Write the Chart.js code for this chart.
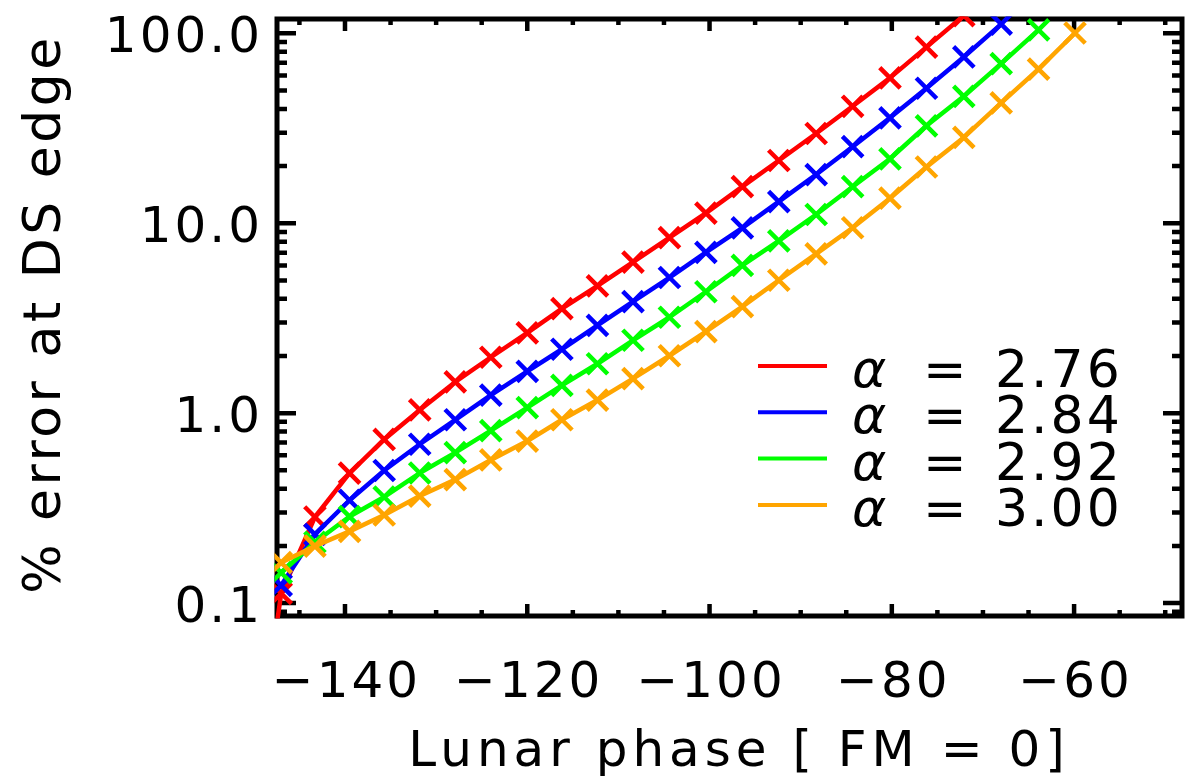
<!DOCTYPE html>
<html>
<head>
<meta charset="utf-8">
<script src="https://cdn.jsdelivr.net/npm/chart.js@4"></script>
<style>
html,body{margin:0;padding:0;background:#ffffff;}
#wrap{width:1201px;height:782px;position:relative;}
</style>
</head>
<body>
<div id="wrap"><canvas id="c" width="1201" height="782"></canvas></div>
<script>
// ---------- data ----------
const phase = [-150.9, -147.0, -143.3, -139.5, -135.7, -131.8, -127.9, -124.0, -120.0, -116.2,
               -112.3, -108.4, -104.4, -100.4, -96.4, -92.4, -88.3, -84.3, -80.2, -76.2,
               -72.1, -68.0, -63.9, -59.9];
const alphaValues = [2.76, 2.84, 2.92, 3.00];
const err276 = [0.0055, 0.1125, 0.284, 0.483, 0.727, 1.04, 1.46, 1.97, 2.65, 3.55,
                4.68, 6.24, 8.41, 11.3, 15.6, 21.4, 29.7, 41.3, 58.3, 84.6, 124];
const err284 = [null, 0.124, 0.230, 0.348, 0.499, 0.686, 0.923, 1.244, 1.66, 2.17,
                2.90, 3.87, 5.18, 7.03, 9.46, 13.0, 18.05, 25.3, 35.9, 51.4, 75.1, 111.8];
const err292 = [null, 0.1445, 0.209, 0.2855, 0.362, 0.484, 0.620, 0.810, 1.07, 1.40,
                1.82, 2.42, 3.20, 4.36, 6.00, 8.08, 11.12, 15.58, 21.85, 32.6, 46.6, 69.3, 104.4];
const err300 = [null, 0.1634, 0.1995, 0.2385, 0.291, 0.366, 0.4467, 0.567, 0.713, 0.923,
                1.172, 1.519, 2.006, 2.685, 3.64, 5.01, 6.90, 9.47, 13.55, 19.78, 28.3, 43.0, 64.8, 100.4];
const xTickValues = [-140, -120, -100, -80, -60];
const xTickLabels = ['\u2212140', '\u2212120', '\u2212100', '\u221280', '\u221260'];
const yTickValues = [0.1, 1, 10, 100];
const yTickLabels = ['0.1', '1.0', '10.0', '100.0'];
const xTitle = 'Lunar phase [ FM = 0]';
const yTitle = '% error at DS edge';

// ---------- styling ----------
const seriesColors = ['#ff0000', '#0000ff', '#00ff00', '#ffa500'];
const allSeries = [err276, err284, err292, err300];
const FONT = '"DejaVu Sans", "Liberation Sans", sans-serif';

function toPoints(vals) {
  const out = [];
  vals.forEach((v, i) => { if (v !== null && v !== undefined) out.push({x: phase[i], y: v}); });
  return out;
}

const datasets = allSeries.map((s, k) => ({
  label: '\u03b1 = ' + alphaValues[k].toFixed(2),
  data: toPoints(s),
  showLine: true,
  borderColor: seriesColors[k],
  backgroundColor: seriesColors[k],
  borderWidth: 4.5,
  borderJoinStyle: 'round',
  pointStyle: 'crossRot',
  pointRadius: 14.5,
  pointBorderWidth: 4.5,
  pointBorderColor: seriesColors[k],
  pointHoverRadius: 14.5,
  tension: 0,
  clip: 2.5,
  order: 3 - k
}));

function setLS(ctx, v) { try { ctx.letterSpacing = v + 'px'; } catch (e) {} }

const framePlugin = {
  id: 'idlFrame',
  beforeDatasetsDraw(chart) {
    const {ctx, chartArea: a, scales: {x, y}} = chart;
    ctx.save();
    ctx.strokeStyle = '#000';
    ctx.lineWidth = 5;
    ctx.strokeRect(a.left, a.top, a.right - a.left, a.bottom - a.top);
    ctx.lineWidth = 4.5;
    ctx.lineCap = 'butt';
    // x ticks (major every 20, minor every 5), bottom and top, pointing inward
    for (let v = -145; v <= -50; v += 5) {
      const px = x.getPixelForValue(v);
      if (px < a.left + 2 || px > a.right - 2) continue;
      const major = xTickValues.includes(v);
      const len = major ? 12 : 6;
      ctx.beginPath();
      ctx.moveTo(px, a.bottom); ctx.lineTo(px, a.bottom - len);
      ctx.moveTo(px, a.top); ctx.lineTo(px, a.top + len);
      ctx.stroke();
    }
    // y ticks: majors at decades, minors at 2..9
    for (let d = -2; d <= 2; d++) {
      for (let m = 1; m <= 9; m++) {
        const v = m * Math.pow(10, d);
        if (v < y.min || v > y.max) continue;
        const py = y.getPixelForValue(v);
        if (py > a.bottom - 4 || py < a.top + 2) continue;
        const len = (m === 1) ? 19 : 10;
        ctx.beginPath();
        ctx.moveTo(a.left, py); ctx.lineTo(a.left + len, py);
        ctx.moveTo(a.right, py); ctx.lineTo(a.right - len, py);
        ctx.stroke();
      }
    }
    ctx.restore();
  },
  afterDraw(chart) {
    const {ctx, chartArea: a, scales: {x, y}} = chart;
    ctx.save();
    ctx.fillStyle = '#000';
    // y tick labels
    ctx.font = '50px ' + FONT;
    setLS(ctx, 3);
    ctx.textAlign = 'right';
    ctx.textBaseline = 'alphabetic';
    yTickValues.forEach((v, i) => {
      ctx.fillText(yTickLabels[i], 263, y.getPixelForValue(v) + 19);
    });
    // x tick labels
    ctx.textAlign = 'center';
    xTickValues.forEach((v, i) => {
      ctx.fillText(xTickLabels[i], x.getPixelForValue(v) + 1.5, 697);
    });
    // x title
    setLS(ctx, 5);
    ctx.fillText(xTitle, 739, 766);
    // y title
    ctx.save();
    ctx.translate(60, 314);
    ctx.rotate(-Math.PI / 2);
    ctx.font = '52px ' + FONT;
    setLS(ctx, 3.5);
    ctx.textAlign = 'center';
    ctx.fillText(yTitle, 0, 0);
    ctx.restore();
    // legend
    const rowY0 = 366, rowStep = 46.3;
    chart.data.datasets.forEach((ds, i) => {
      const ry = rowY0 + i * rowStep;
      ctx.strokeStyle = ds.borderColor;
      ctx.lineWidth = 4;
      ctx.beginPath();
      ctx.moveTo(758, ry); ctx.lineTo(827, ry);
      ctx.stroke();
      const parts = ds.label.split(' ');
      ctx.fillStyle = '#000';
      ctx.textAlign = 'left';
      setLS(ctx, 0);
      ctx.font = 'italic 52px ' + FONT;
      ctx.fillText(parts[0], 852, ry + 21);
      ctx.font = '52px ' + FONT;
      ctx.fillText(parts[1], 923, ry + 21);
      setLS(ctx, 3);
      ctx.fillText(parts[2], 995, ry + 21);
    });
    ctx.restore();
  }
};

new Chart(document.getElementById('c'), {
  type: 'scatter',
  data: {datasets},
  options: {
    responsive: false,
    animation: false,
    devicePixelRatio: 1,
    layout: {padding: {left: 277, top: 9.7, right: 2.5, bottom: 166}},
    scales: {
      x: {type: 'linear', min: -147.46, max: -48.16, display: false},
      y: {type: 'logarithmic', min: 0.0855, max: 119, display: false}
    },
    plugins: {legend: {display: false}, tooltip: {enabled: false}, title: {display: false}}
  },
  plugins: [framePlugin]
});
</script>
</body>
</html>
